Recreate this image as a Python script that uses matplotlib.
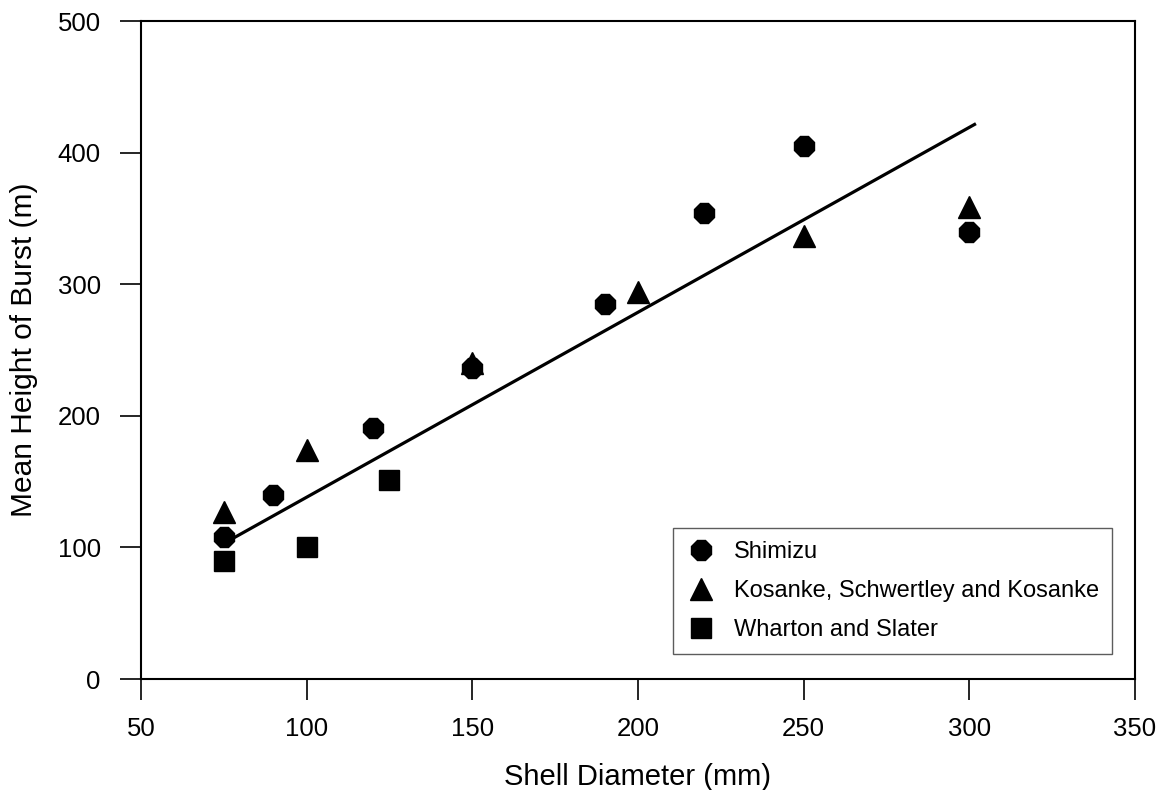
import matplotlib
matplotlib.use('Agg')
import matplotlib.pyplot as plt

plt.rcParams['font.family'] = ['Liberation Sans', 'DejaVu Sans']

# Shimizu
shimizu_x = [75, 90, 120, 150, 190, 220, 250, 300]
shimizu_y = [108, 140, 191, 236, 285, 354, 405, 340]

# Kosanke, Schwertley and Kosanke
kosanke_x = [75, 100, 150, 200, 250, 300]
kosanke_y = [127, 174, 240, 294, 337, 359]

# Wharton and Slater
wharton_x = [75, 100, 125]
wharton_y = [90, 100, 151]

# fitted line
fit_x = [75, 302]
fit_y = [103, 422]

fig = plt.figure(figsize=(11.63, 7.90), dpi=100)
ax = fig.add_axes([0.1212, 0.1405, 0.8547, 0.8329])

ax.plot(fit_x, fit_y, color='black', lw=2.3, solid_capstyle='butt', zorder=2)
ax.plot(shimizu_x, shimizu_y, ls='none', marker='8', ms=15, color='black',
        label='Shimizu', zorder=3)
ax.plot(kosanke_x, kosanke_y, ls='none', marker='^', ms=16, color='black',
        label='Kosanke, Schwertley and Kosanke', zorder=3)
ax.plot(wharton_x, wharton_y, ls='none', marker='s', ms=14.5, color='black',
        label='Wharton and Slater', zorder=3)

ax.set_xlim(50, 350)
ax.set_ylim(0, 500)
ax.set_xticks([50, 100, 150, 200, 250, 300, 350])
ax.set_yticks([0, 100, 200, 300, 400, 500])

for s in ax.spines.values():
    s.set_linewidth(1.5)

ax.tick_params(axis='both', direction='out', length=15, width=1.2,
               labelsize=18.5)
ax.tick_params(axis='x', pad=12)
ax.tick_params(axis='y', pad=14)

ax.set_xlabel('Shell Diameter (mm)', fontsize=21, labelpad=16)
ax.set_ylabel('Mean Height of Burst (m)', fontsize=21.5, labelpad=14)

leg = ax.legend(loc='lower right', bbox_to_anchor=(0.977, 0.038), fontsize=17,
                frameon=True, fancybox=False, edgecolor='#333333',
                handletextpad=0.75, labelspacing=0.72, borderpad=0.55,
                handlelength=1.3, markerscale=1.0, borderaxespad=0)
leg.get_frame().set_linewidth(1.0)

fig.savefig('out.png', dpi=100)
